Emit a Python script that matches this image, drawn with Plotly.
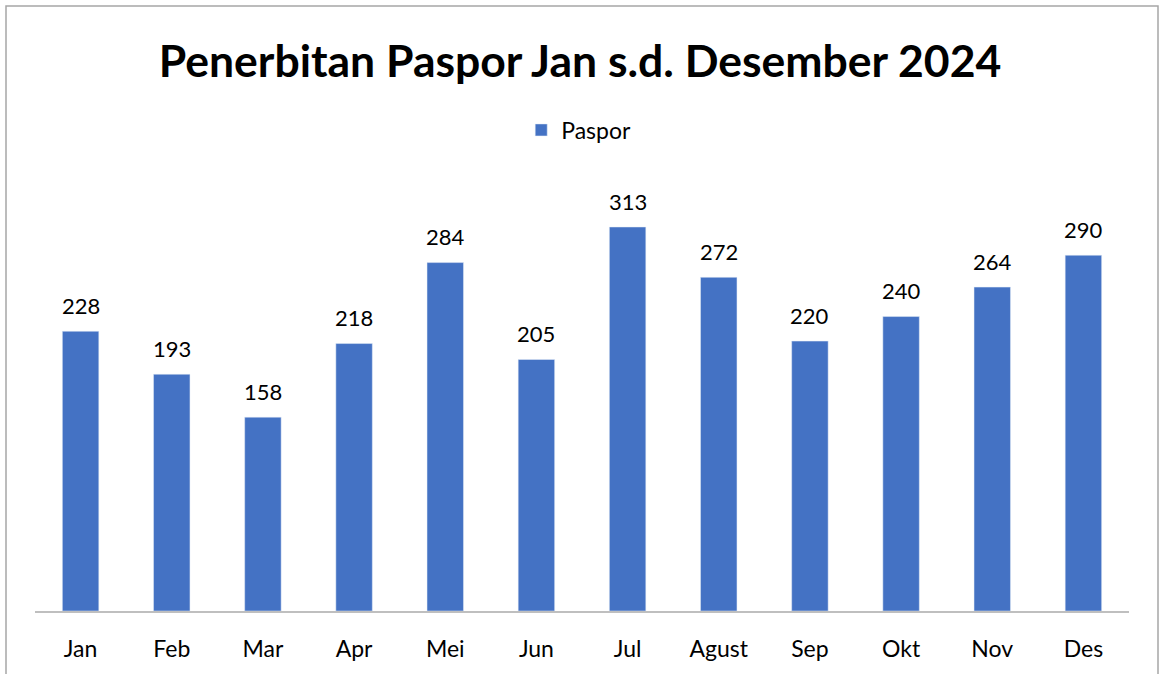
import plotly.graph_objects as go

months = ["Jan", "Feb", "Mar", "Apr", "Mei", "Jun", "Jul", "Agust", "Sep", "Okt", "Nov", "Des"]
paspor = [228, 193, 158, 218, 284, 205, 313, 272, 220, 240, 264, 290]

W, H = 1160, 674
L, R, T, B = 35, 31, 160, 63
plot_h = H - T - B
plot_w = W - L - R
px_per_unit = 384 / 313
ymax = plot_h / px_per_unit

FONT = "Lato"

fig = go.Figure()
fig.add_trace(go.Bar(
    x=months, y=paspor, name="Paspor",
    marker_color="#4472C4",
))

for m, v in zip(months, paspor):
    fig.add_annotation(x=m, y=v, text=str(v), showarrow=False,
                       yanchor="middle", yshift=26,
                       font=dict(size=22, color="#000000", family=FONT))

fig.update_layout(
    width=W, height=H,
    margin=dict(l=L, r=R, t=T, b=B),
    paper_bgcolor="white", plot_bgcolor="white",
    bargap=0.6,
    title=dict(text="<b>Penerbitan Paspor Jan s.d. Desember 2024</b>",
               x=0.5, xanchor="center", y=1 - 61 / H, yanchor="middle",
               font=dict(size=44.5, color="#000000", family=FONT)),
    showlegend=True,
    legend=dict(orientation="h", x=0.497, xanchor="center",
                y=(H - B - 130) / plot_h, yanchor="middle",
                font=dict(size=23, color="#000000", family=FONT)),
    xaxis=dict(showline=True, linecolor="#BFBFBF", linewidth=1.5,
               ticks="", ticklabelstandoff=17,
               tickfont=dict(size=23, color="#000000", family=FONT),
               showgrid=False),
    yaxis=dict(range=[0, ymax], visible=False, showgrid=False),
)

fig.add_shape(type="rect", xref="paper", yref="paper",
              x0=(6 - L) / plot_w, x1=(1158 - L) / plot_w,
              y0=-0.5, y1=(H - B - 6) / plot_h,
              line=dict(color="#A6A6A6", width=1.5), fillcolor="rgba(0,0,0,0)",
              layer="below")

fig.write_html("out.html", config={"displayModeBar": False},
               post_script="document.body.style.margin='0';document.body.style.overflow='hidden';")
